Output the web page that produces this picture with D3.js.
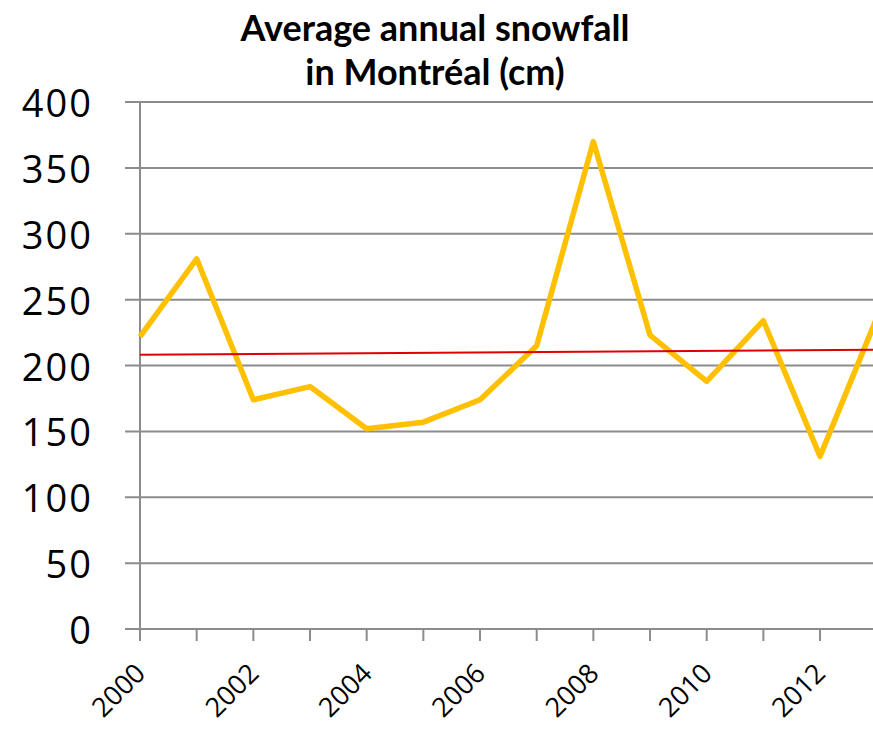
<!DOCTYPE html>
<html>
<head>
<meta charset="utf-8">
<script src="https://cdn.jsdelivr.net/npm/d3@7"></script>
<style>
  body { margin: 0; background: #fff; }
  svg { display: block; }
</style>
</head>
<body>
<svg id="chart" width="873" height="732"></svg>
<script>
const years = [2000, 2001, 2002, 2003, 2004, 2005, 2006, 2007, 2008, 2009, 2010, 2011, 2012, 2013];
const snowfall = [222, 281, 174, 184, 152, 157, 174, 215, 370, 223, 188, 234, 131, 236];
const yTicks = [0, 50, 100, 150, 200, 250, 300, 350, 400];
const xTickLabels = [2000, 2002, 2004, 2006, 2008, 2010, 2012];
const titleLines = ["Average annual snowfall", "in Montréal (cm)"];

const svg = d3.select("#chart");
const plotLeft = 140, plotTop = 102, plotBottom = 629, step = 56.67;

const x = d3.scaleLinear().domain([2000, 2013]).range([plotLeft, plotLeft + 13 * step]);
const y = d3.scaleLinear().domain([0, 400]).range([plotBottom, plotTop]);

// title
svg.selectAll(".title")
  .data(titleLines)
  .enter().append("text")
  .attr("x", 435)
  .attr("y", (d, i) => 41 + i * 44)
  .attr("text-anchor", "middle")
  .attr("font-family", "Lato, 'Open Sans', sans-serif")
  .attr("font-weight", "bold")
  .attr("font-size", "36px")
  .attr("fill", "#000")
  .text(d => d);

// horizontal gridlines
svg.append("g")
  .selectAll("line")
  .data(yTicks)
  .enter().append("line")
  .attr("x1", 125).attr("x2", 873)
  .attr("y1", d => y(d)).attr("y2", d => y(d))
  .attr("stroke", "#8c8c8c")
  .attr("stroke-width", 2);

// y labels
svg.append("g")
  .selectAll("text")
  .data(yTicks)
  .enter().append("text")
  .attr("x", 93)
  .attr("y", d => y(d) + 15)
  .attr("text-anchor", "end")
  .attr("font-family", "'Open Sans', sans-serif")
  .attr("font-size", "38px")
  .attr("letter-spacing", "2px")
  .attr("fill", "#000")
  .text(d => d);

// vertical axis line
svg.append("line")
  .attr("x1", plotLeft).attr("x2", plotLeft)
  .attr("y1", plotTop).attr("y2", plotBottom + 12)
  .attr("stroke", "#8c8c8c")
  .attr("stroke-width", 2);

// x tick marks
svg.append("g")
  .selectAll("line")
  .data(years)
  .enter().append("line")
  .attr("x1", d => x(d)).attr("x2", d => x(d))
  .attr("y1", plotBottom).attr("y2", plotBottom + 12)
  .attr("stroke", "#8c8c8c")
  .attr("stroke-width", 2);

// x labels
svg.append("g")
  .selectAll("text")
  .data(xTickLabels)
  .enter().append("text")
  .attr("transform", d => `translate(${x(d) + 7}, 675) rotate(-45)`)
  .attr("text-anchor", "end")
  .attr("font-family", "'Open Sans', sans-serif")
  .attr("font-size", "27px")
  .attr("fill", "#000")
  .text(d => d);

// series line
const pts = years.map((yr, i) => ({ yr, v: snowfall[i] }));
svg.append("path")
  .datum(pts)
  .attr("fill", "none")
  .attr("stroke", "#ffc000")
  .attr("stroke-width", 5.5)
  .attr("stroke-linejoin", "round")
  .attr("d", d3.line().x(d => x(d.yr)).y(d => y(d.v)));

// linear trendline (least squares over the series)
const xm = d3.mean(years), ym = d3.mean(snowfall);
const slope = d3.sum(pts, d => (d.yr - xm) * (d.v - ym)) / d3.sum(pts, d => (d.yr - xm) ** 2);
const trend = [years[0], years[years.length - 1]].map(yr => ({ yr, v: ym + slope * (yr - xm) }));
svg.append("path")
  .datum(trend)
  .attr("fill", "none")
  .attr("stroke", "#e00000")
  .attr("stroke-width", 2)
  .attr("d", d3.line().x(d => x(d.yr)).y(d => y(d.v)));
</script>
</body>
</html>
